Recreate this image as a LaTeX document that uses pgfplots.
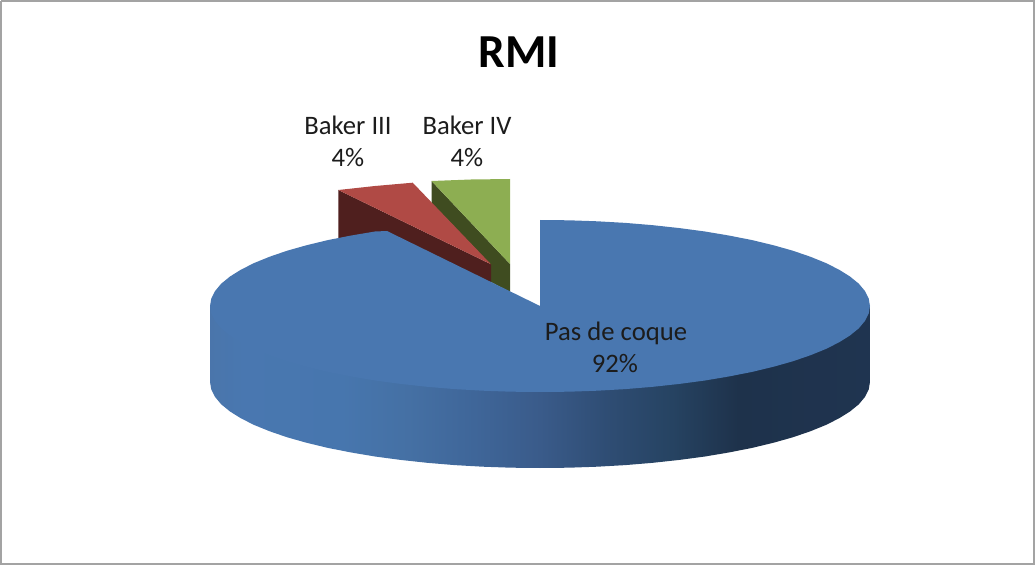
\documentclass[border=0pt]{standalone}
\usepackage{pgfplots}
\pgfplotsset{compat=1.18}
\usepackage{fontspec}
\setmainfont{Carlito}
\definecolor{topblue}{HTML}{4977B0}
\definecolor{topred}{HTML}{B04A45}
\definecolor{topgreen}{HTML}{8DAE52}
\definecolor{darkred}{HTML}{4F1F1E}
\definecolor{darkgreen}{HTML}{3F4C20}
\definecolor{framegray}{HTML}{A3A3A3}
\definecolor{labeltext}{HTML}{1C1C1C}
\pgfdeclarehorizontalshading{sidegrad}{100bp}{
 rgb(0bp)=(.29,.46,.67);
 rgb(25bp)=(.29,.46,.67);
 rgb(27.5bp)=(.286,.467,.69);
 rgb(35bp)=(.278,.463,.682);
 rgb(40bp)=(.27,.44,.643);
 rgb(45bp)=(.247,.4,.6);
 rgb(50bp)=(.227,.357,.541);
 rgb(55bp)=(.184,.302,.455);
 rgb(60bp)=(.149,.263,.384);
 rgb(65bp)=(.118,.196,.294);
 rgb(75bp)=(.122,.204,.314);
 rgb(100bp)=(.122,.204,.314)}
\begin{document}
\begin{tikzpicture}
\begin{axis}[
  scale only axis, width=776.25pt, height=423.75pt,
  xmin=0, xmax=1035, ymin=0, ymax=565, y dir=reverse,
  hide axis, clip=false,
]
% frame
\addplot[draw=framegray, line width=1.5pt, no markers] coordinates {(1,1) (1034,1) (1034,563.5) (1,563.5) (1,1)};
% green slice
\addplot[fill=darkgreen, draw=none, no markers] coordinates {(431.5,181) (431.5,203) (491,265) (491,282) (510,292) (510,264)};
\addplot[fill=topgreen, draw=none, no markers] coordinates {(431.5,181) (471,179.5) (510,179) (510,264)};
% red slice
\addplot[fill=darkred, draw=none, no markers] coordinates {(338.3,190) (491,264.3) (491,290) (338.3,260)};
\addplot[fill=topred, draw=none, no markers] coordinates {(338.3,190) (375,186) (412.7,182.7) (491,264.3)};
% blue side
\addplot[draw=none, shade, shading=sidegrad, no markers] coordinates {
 (870,306) (210,306)
 (210,382) (211.3,389.5) (215,396.9) (221.2,404.3) (229.9,411.4) (240.9,418.3) (254.2,425) (269.7,431.3)
 (287.2,437.3) (306.7,442.8) (327.9,447.9) (350.7,452.4) (375,456.5) (400.5,459.9) (427.1,462.8) (454.6,465.1)
 (482.7,466.7) (511.2,467.7) (540,468) (568.8,467.7) (597.3,466.7) (625.4,465.1) (652.9,462.8) (679.5,459.9)
 (705,456.5) (729.3,452.4) (752.1,447.9) (773.3,442.8) (792.8,437.3) (810.3,431.3) (825.8,425) (839.1,418.3)
 (850.1,411.4) (858.8,404.3) (865,396.9) (868.7,389.5) (870,382)};
% blue top
\addplot[fill=topblue, draw=none, no markers] coordinates {
 (540,306) (540,220) (568.8,220.3) (597.3,221.3) (625.4,222.9) (652.9,225.2) (679.5,228.1) (705,231.5)
 (729.3,235.6) (752.1,240.1) (773.3,245.2) (792.8,250.7) (810.3,256.7) (825.8,263) (839.1,269.7) (850.1,276.6)
 (858.8,283.7) (865,291.1) (868.7,298.5) (870,306)
 (868.7,313.5) (865,320.9) (858.8,328.3) (850.1,335.4) (839.1,342.3) (825.8,349) (810.3,355.3)
 (792.8,361.3) (773.3,366.8) (752.1,371.9) (729.3,376.4) (705,380.5) (679.5,383.9) (652.9,386.8) (625.4,389.1)
 (597.3,390.7) (568.8,391.7) (540,392) (511.2,391.7) (482.7,390.7) (454.6,389.1) (427.1,386.8) (400.5,383.9)
 (375,380.5) (350.7,376.4) (327.9,371.9) (306.7,366.8) (287.2,361.3) (269.7,355.3) (254.2,349) (240.9,342.3)
 (229.9,335.4) (221.2,328.3) (215,320.9) (211.3,313.5) (210,306)
 (211.3,298.5) (215,291.1) (221.2,283.7) (229.9,276.6) (240.9,269.7) (254.2,263) (269.7,256.7) (287.2,250.7)
 (306.7,245.2) (327.9,240.1) (350.7,235.6) (375,231.5) (387,231)};
% texts
\node[anchor=base, font=\fontsize{35.5}{35.5}\selectfont\bfseries, text=black] at (axis cs:519,68) {RMI};
\node[anchor=base, font=\fontsize{20}{20}\selectfont, text=labeltext] at (axis cs:348,135) {Baker III};
\node[anchor=base, font=\fontsize{20}{20}\selectfont, text=labeltext] at (axis cs:348,167) {4\%};
\node[anchor=base, font=\fontsize{20}{20}\selectfont, text=labeltext] at (axis cs:467,135) {Baker IV};
\node[anchor=base, font=\fontsize{20}{20}\selectfont, text=labeltext] at (axis cs:467,167) {4\%};
\node[anchor=base, font=\fontsize{20}{20}\selectfont, text=labeltext] at (axis cs:616,340) {Pas de coque};
\node[anchor=base, font=\fontsize{20}{20}\selectfont, text=labeltext] at (axis cs:615,372) {92\%};
\end{axis}
\end{tikzpicture}
\end{document}
